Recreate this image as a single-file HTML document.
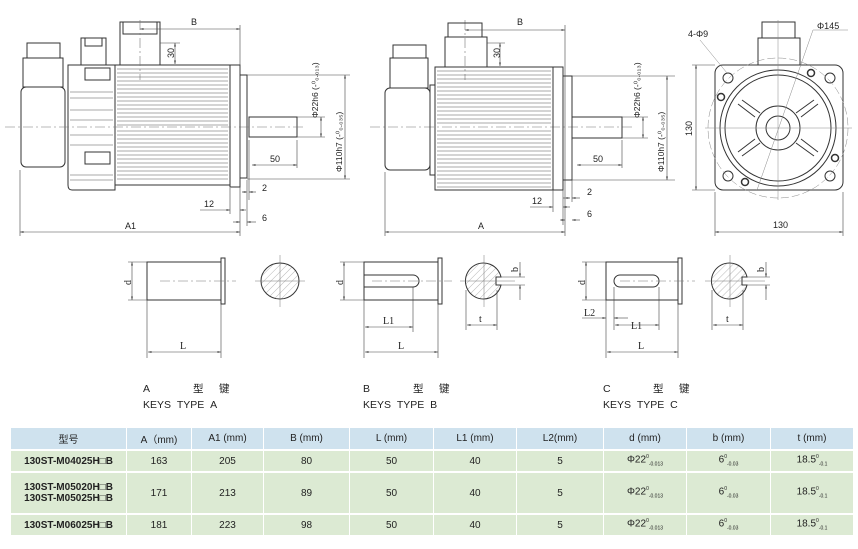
<!DOCTYPE html>
<html><head><meta charset="utf-8"><style>
html,body{margin:0;padding:0;background:#fff;width:858px;height:549px;overflow:hidden}
svg{position:absolute;left:0;top:0}
.t{font-family:"Liberation Sans","Noto Sans CJK SC",sans-serif;}
table{position:absolute;left:11px;top:428px;border-collapse:collapse;font-family:"Liberation Sans","Noto Sans CJK SC",sans-serif;font-size:10px;color:#222}
td{text-align:center;border-right:1px solid #fff;border-bottom:2px solid #fff;padding:0}
tr.h td{background:#cfe2ee;height:21px}
tr.r td{background:#dcead3}
td sup,td sub{font-size:5px}
</style></head><body>
<svg width="858" height="549" viewBox="0 0 858 549" xmlns="http://www.w3.org/2000/svg">
<defs>
<pattern id="hat" width="5" height="5" patternUnits="userSpaceOnUse" patternTransform="rotate(45)"><line x1="0" y1="0" x2="0" y2="5" stroke="#888" stroke-width="0.6"/></pattern>
<marker id="a" markerWidth="6" markerHeight="6" refX="6" refY="3" orient="auto-start-reverse"><path d="M0,1.5 L6,3 L0,4.5z" fill="#333"/></marker>
</defs>
<g fill="none" stroke="#333" stroke-width="1">
<!-- MOTOR 1 -->
<rect x="27" y="43" width="33" height="15"/>
<rect x="23" y="58" width="40" height="29"/>
<rect x="21" y="87" width="44" height="80" rx="5"/>
<rect x="81" y="38" width="25" height="27"/>
<rect x="85" y="38" width="17" height="8"/>
<rect x="120" y="22" width="40" height="43"/>
<rect x="123" y="22" width="34" height="12"/>
<path d="M68,65 H115 V190 H72 Q68,190 68,185 Z"/>
<rect x="85" y="68" width="25" height="12"/>
<rect x="85" y="152" width="25" height="12"/>
<rect x="115" y="65" width="115" height="120"/>
<rect x="230" y="65" width="10" height="122"/>
<rect x="240" y="75" width="7" height="103"/>
<rect x="249" y="117" width="48" height="20"/>
</g>
<g stroke="#555" stroke-width="0.6">
<line x1="117" y1="69" x2="228" y2="69"/><line x1="117" y1="73" x2="228" y2="73"/><line x1="117" y1="77" x2="228" y2="77"/><line x1="117" y1="81" x2="228" y2="81"/><line x1="117" y1="85" x2="228" y2="85"/><line x1="117" y1="89" x2="228" y2="89"/><line x1="117" y1="93" x2="228" y2="93"/><line x1="117" y1="97" x2="228" y2="97"/><line x1="117" y1="101" x2="228" y2="101"/><line x1="117" y1="105" x2="228" y2="105"/><line x1="117" y1="109" x2="228" y2="109"/><line x1="117" y1="113" x2="228" y2="113"/><line x1="117" y1="117" x2="228" y2="117"/><line x1="117" y1="121" x2="228" y2="121"/><line x1="117" y1="125" x2="228" y2="125"/><line x1="117" y1="131" x2="228" y2="131"/><line x1="117" y1="135" x2="228" y2="135"/><line x1="117" y1="139" x2="228" y2="139"/><line x1="117" y1="143" x2="228" y2="143"/><line x1="117" y1="147" x2="228" y2="147"/><line x1="117" y1="151" x2="228" y2="151"/><line x1="117" y1="155" x2="228" y2="155"/><line x1="117" y1="159" x2="228" y2="159"/><line x1="117" y1="163" x2="228" y2="163"/><line x1="117" y1="167" x2="228" y2="167"/><line x1="117" y1="171" x2="228" y2="171"/><line x1="117" y1="175" x2="228" y2="175"/><line x1="117" y1="179" x2="228" y2="179"/>
<line x1="70" y1="92" x2="113" y2="92"/><line x1="70" y1="98" x2="113" y2="98"/><line x1="70" y1="110" x2="113" y2="110"/><line x1="70" y1="120" x2="113" y2="120"/><line x1="70" y1="135" x2="113" y2="135"/><line x1="70" y1="145" x2="113" y2="145"/><line x1="70" y1="175" x2="113" y2="175"/><line x1="70" y1="180" x2="113" y2="180"/>
</g>
<g stroke="#777" stroke-width="0.6" fill="none" stroke-dasharray="10,3,2,3">
<line x1="5" y1="127" x2="305" y2="127"/><line x1="140" y1="20" x2="140" y2="80"/>
<line x1="370" y1="127" x2="632" y2="127"/><line x1="465" y1="20" x2="465" y2="80"/>
</g>
<g stroke="#444" stroke-width="0.6" fill="none">
<line x1="140" y1="29" x2="240" y2="29" marker-start="url(#a)" marker-end="url(#a)"/>
<line x1="240" y1="25" x2="240" y2="236"/>
<line x1="20" y1="232" x2="240" y2="232" marker-start="url(#a)" marker-end="url(#a)"/>
<line x1="20" y1="170" x2="20" y2="236"/>
<line x1="175" y1="43" x2="175" y2="64" marker-start="url(#a)" marker-end="url(#a)"/>
<line x1="160" y1="43" x2="180" y2="43"/>
<line x1="247" y1="75" x2="350" y2="75"/><line x1="247" y1="179" x2="350" y2="179"/>
<line x1="297" y1="117" x2="325" y2="117"/><line x1="297" y1="137" x2="325" y2="137"/>
<line x1="321" y1="117" x2="321" y2="137" marker-start="url(#a)" marker-end="url(#a)"/>
<line x1="345" y1="75" x2="345" y2="179" marker-start="url(#a)" marker-end="url(#a)"/>
<line x1="252" y1="165" x2="297" y2="165" marker-start="url(#a)" marker-end="url(#a)"/>
<line x1="297" y1="140" x2="297" y2="168"/><line x1="249" y1="140" x2="249" y2="200"/>
<line x1="242" y1="192" x2="247" y2="192" marker-start="url(#a)"/><line x1="249" y1="192" x2="256" y2="192" marker-start="url(#a)"/>
<line x1="200" y1="210" x2="230" y2="210" marker-end="url(#a)"/><line x1="240" y1="210" x2="246" y2="210" marker-start="url(#a)"/>
<line x1="230" y1="188" x2="230" y2="214"/><line x1="247" y1="180" x2="247" y2="226"/>
<line x1="233" y1="222" x2="240" y2="222" marker-end="url(#a)"/><line x1="247" y1="222" x2="256" y2="222" marker-start="url(#a)"/>
</g>
<g class="t" font-size="9" fill="#222">
<text x="191" y="25">B</text><text x="125" y="229">A1</text>
<text x="270" y="162">50</text><text x="262" y="191">2</text><text x="204" y="207">12</text><text x="262" y="221">6</text>
<text transform="translate(174,58) rotate(-90)">30</text>
<text transform="translate(318,118) rotate(-90)" font-size="8.5">Φ22h6 (-⁰₀.₀₁₃)</text>
<text transform="translate(342,172) rotate(-90)" font-size="8.5">Φ110h7 (-⁰₀.₀₃₅)</text>
</g>
<!-- MOTOR 2 -->
<g fill="none" stroke="#333" stroke-width="1">
<rect x="393" y="45" width="33" height="13"/>
<rect x="390" y="58" width="38" height="30"/>
<rect x="385" y="88" width="45" height="82" rx="5"/>
<rect x="430" y="85" width="5" height="90"/>
<rect x="445" y="37" width="42" height="30"/>
<rect x="448" y="23" width="34" height="14"/>
<rect x="435" y="67" width="118" height="123"/>
<rect x="553" y="67" width="10" height="123"/>
<rect x="563" y="76" width="9" height="104"/>
<rect x="572" y="117" width="50" height="21"/>
</g>
<g stroke="#555" stroke-width="0.6">
<line x1="437" y1="71" x2="551" y2="71"/><line x1="437" y1="75" x2="551" y2="75"/><line x1="437" y1="79" x2="551" y2="79"/><line x1="437" y1="83" x2="551" y2="83"/><line x1="437" y1="87" x2="551" y2="87"/><line x1="437" y1="91" x2="551" y2="91"/><line x1="437" y1="95" x2="551" y2="95"/><line x1="437" y1="99" x2="551" y2="99"/><line x1="437" y1="103" x2="551" y2="103"/><line x1="437" y1="107" x2="551" y2="107"/><line x1="437" y1="111" x2="551" y2="111"/><line x1="437" y1="115" x2="551" y2="115"/><line x1="437" y1="119" x2="551" y2="119"/><line x1="437" y1="123" x2="551" y2="123"/><line x1="437" y1="131" x2="551" y2="131"/><line x1="437" y1="135" x2="551" y2="135"/><line x1="437" y1="139" x2="551" y2="139"/><line x1="437" y1="143" x2="551" y2="143"/><line x1="437" y1="147" x2="551" y2="147"/><line x1="437" y1="151" x2="551" y2="151"/><line x1="437" y1="155" x2="551" y2="155"/><line x1="437" y1="159" x2="551" y2="159"/><line x1="437" y1="163" x2="551" y2="163"/><line x1="437" y1="167" x2="551" y2="167"/><line x1="437" y1="171" x2="551" y2="171"/><line x1="437" y1="175" x2="551" y2="175"/><line x1="437" y1="179" x2="551" y2="179"/><line x1="437" y1="183" x2="551" y2="183"/><line x1="437" y1="187" x2="551" y2="187"/>
</g>
<g stroke="#444" stroke-width="0.6" fill="none">
<line x1="465" y1="30" x2="565" y2="30" marker-start="url(#a)" marker-end="url(#a)"/>
<line x1="565" y1="25" x2="565" y2="236"/>
<line x1="385" y1="232" x2="565" y2="232" marker-start="url(#a)" marker-end="url(#a)"/>
<line x1="385" y1="172" x2="385" y2="236"/>
<line x1="500" y1="43" x2="500" y2="66" marker-start="url(#a)" marker-end="url(#a)"/>
<line x1="487" y1="43" x2="505" y2="43"/>
<line x1="572" y1="76" x2="675" y2="76"/><line x1="572" y1="180" x2="675" y2="180"/>
<line x1="622" y1="117" x2="648" y2="117"/><line x1="622" y1="138" x2="648" y2="138"/>
<line x1="643" y1="117" x2="643" y2="138" marker-start="url(#a)" marker-end="url(#a)"/>
<line x1="667" y1="76" x2="667" y2="180" marker-start="url(#a)" marker-end="url(#a)"/>
<line x1="577" y1="165" x2="622" y2="165" marker-start="url(#a)" marker-end="url(#a)"/>
<line x1="622" y1="140" x2="622" y2="168"/><line x1="572" y1="140" x2="572" y2="202"/>
<line x1="563" y1="198" x2="570" y2="198" marker-end="url(#a)"/><line x1="572" y1="198" x2="580" y2="198" marker-start="url(#a)"/>
<line x1="530" y1="207" x2="553" y2="207" marker-end="url(#a)"/><line x1="563" y1="207" x2="570" y2="207" marker-start="url(#a)"/>
<line x1="553" y1="190" x2="553" y2="212"/><line x1="563" y1="190" x2="563" y2="225"/>
<line x1="560" y1="220" x2="565" y2="220" marker-end="url(#a)"/><line x1="572" y1="220" x2="580" y2="220" marker-start="url(#a)"/>
</g>
<g class="t" font-size="9" fill="#222">
<text x="517" y="25">B</text><text x="478" y="229">A</text>
<text x="593" y="162">50</text><text x="587" y="195">2</text><text x="532" y="204">12</text><text x="587" y="217">6</text>
<text transform="translate(500,58) rotate(-90)">30</text>
<text transform="translate(640,118) rotate(-90)" font-size="8.5">Φ22h6 (-⁰₀.₀₁₃)</text>
<text transform="translate(664,172) rotate(-90)" font-size="8.5">Φ110h7 (-⁰₀.₀₃₅)</text>
</g>
<!-- FRONT VIEW -->
<g fill="none" stroke="#333" stroke-width="1">
<rect x="758" y="38" width="42" height="27"/>
<rect x="762" y="22" width="33" height="16"/>
<rect x="715" y="65" width="128" height="125" rx="8"/>
<circle cx="778" cy="128" r="58"/><circle cx="778" cy="128" r="53"/>
<circle cx="778" cy="128" r="22"/><circle cx="778" cy="128" r="12"/>
<path d="M742,100 L760,113 M814,100 L796,113 M742,156 L760,143 M814,156 L796,143"/>
<path d="M738,104 L755,117 M818,104 L801,117 M738,152 L755,139 M818,152 L801,139"/>
<circle cx="728" cy="78" r="5"/><circle cx="830" cy="78" r="5"/><circle cx="728" cy="176" r="5"/><circle cx="830" cy="176" r="5"/>
<circle cx="721" cy="97" r="3.5" stroke-width="1.5"/><circle cx="811" cy="73" r="3.5" stroke-width="1.5"/><circle cx="835" cy="158" r="3.5" stroke-width="1.5"/><circle cx="745" cy="182" r="3.5" stroke-width="1.5"/>
</g>
<g stroke="#888" stroke-width="0.5" fill="none">
<circle cx="778" cy="128" r="70" stroke-dasharray="8,3"/>
<line x1="705" y1="128" x2="852" y2="128"/><line x1="778" y1="20" x2="778" y2="200"/>
<line x1="757" y1="190" x2="813" y2="30"/><line x1="700" y1="40" x2="727" y2="73"/>
<line x1="813" y1="30" x2="848" y2="30"/>
</g>
<g stroke="#444" stroke-width="0.6" fill="none">
<line x1="696" y1="65" x2="696" y2="190" marker-start="url(#a)" marker-end="url(#a)"/>
<line x1="692" y1="65" x2="715" y2="65"/><line x1="692" y1="190" x2="715" y2="190"/>
<line x1="715" y1="232" x2="843" y2="232" marker-start="url(#a)" marker-end="url(#a)"/>
<line x1="715" y1="192" x2="715" y2="236"/><line x1="843" y1="192" x2="843" y2="236"/>
</g>
<g class="t" font-size="9" fill="#222">
<text x="688" y="37">4-Φ9</text><text x="817" y="29">Φ145</text><text x="773" y="228">130</text>
<text transform="translate(692,136) rotate(-90)">130</text>
</g>
<!-- KEYS -->
<g fill="none" stroke="#333" stroke-width="1">
<rect x="147" y="262" width="74" height="38"/><rect x="221" y="258" width="4" height="46"/>
<rect x="364" y="262" width="74" height="38"/><rect x="438" y="258" width="4" height="46"/>
<path d="M364,275 H413 A6,6 0 0 1 413,287 H364"/>
<rect x="606" y="262" width="72" height="38"/><rect x="678" y="258" width="4" height="46"/>
<rect x="614" y="275" width="45" height="12" rx="6"/>
</g>
<ellipse cx="280" cy="281" rx="19" ry="18" fill="url(#hat)" stroke="#333"/>
<path d="M501,277 A18,18 0 1 0 501,285 L496,285 L496,277 Z" fill="url(#hat)" stroke="#333" transform="translate(0,0)"/>
<path d="M747,277 A18,18 0 1 0 747,285 L742,285 L742,277 Z" fill="url(#hat)" stroke="#333"/>
<g stroke="#777" stroke-width="0.5" fill="none">
<line x1="160" y1="281" x2="236" y2="281" stroke-dasharray="10,3,2,3"/>
<line x1="255" y1="281" x2="305" y2="281"/><line x1="280" y1="255" x2="280" y2="307"/>
<line x1="372" y1="281" x2="452" y2="281" stroke-dasharray="10,3,2,3"/>
<line x1="460" y1="281" x2="515" y2="281"/><line x1="484" y1="255" x2="484" y2="307"/>
<line x1="620" y1="281" x2="695" y2="281" stroke-dasharray="10,3,2,3"/>
<line x1="705" y1="281" x2="765" y2="281"/><line x1="730" y1="255" x2="730" y2="307"/>
</g>
<g stroke="#444" stroke-width="0.6" fill="none">
<line x1="128" y1="262" x2="147" y2="262"/><line x1="128" y1="300" x2="147" y2="300"/>
<line x1="132" y1="262" x2="132" y2="300" marker-start="url(#a)" marker-end="url(#a)"/>
<line x1="147" y1="300" x2="147" y2="358"/><line x1="221" y1="304" x2="221" y2="358"/>
<line x1="148" y1="352" x2="221" y2="352" marker-start="url(#a)" marker-end="url(#a)"/>
<line x1="340" y1="262" x2="364" y2="262"/><line x1="340" y1="300" x2="364" y2="300"/>
<line x1="344" y1="262" x2="344" y2="300" marker-start="url(#a)" marker-end="url(#a)"/>
<line x1="364" y1="300" x2="364" y2="358"/><line x1="438" y1="304" x2="438" y2="358"/>
<line x1="365" y1="352" x2="438" y2="352" marker-start="url(#a)" marker-end="url(#a)"/>
<line x1="413" y1="287" x2="413" y2="332"/>
<line x1="365" y1="327" x2="413" y2="327" marker-start="url(#a)" marker-end="url(#a)"/>
<line x1="466" y1="290" x2="466" y2="330"/><line x1="497" y1="290" x2="497" y2="330"/>
<line x1="467" y1="325" x2="497" y2="325" marker-start="url(#a)" marker-end="url(#a)"/>
<line x1="497" y1="277" x2="525" y2="277"/><line x1="497" y1="285" x2="525" y2="285"/>
<line x1="520" y1="262" x2="520" y2="277" marker-end="url(#a)"/><line x1="520" y1="300" x2="520" y2="285" marker-end="url(#a)"/>
<line x1="582" y1="262" x2="606" y2="262"/><line x1="582" y1="300" x2="606" y2="300"/>
<line x1="586" y1="262" x2="586" y2="300" marker-start="url(#a)" marker-end="url(#a)"/>
<line x1="606" y1="300" x2="606" y2="358"/><line x1="678" y1="304" x2="678" y2="358"/>
<line x1="614" y1="287" x2="614" y2="330"/><line x1="659" y1="287" x2="659" y2="330"/>
<line x1="607" y1="352" x2="678" y2="352" marker-start="url(#a)" marker-end="url(#a)"/>
<line x1="615" y1="325" x2="659" y2="325" marker-start="url(#a)" marker-end="url(#a)"/>
<line x1="582" y1="318" x2="606" y2="318" marker-end="url(#a)"/><line x1="614" y1="318" x2="628" y2="318" marker-start="url(#a)"/>
<line x1="712" y1="290" x2="712" y2="330"/><line x1="743" y1="290" x2="743" y2="330"/>
<line x1="713" y1="325" x2="743" y2="325" marker-start="url(#a)" marker-end="url(#a)"/>
<line x1="743" y1="277" x2="770" y2="277"/><line x1="743" y1="285" x2="770" y2="285"/>
<line x1="766" y1="262" x2="766" y2="277" marker-end="url(#a)"/><line x1="766" y1="300" x2="766" y2="285" marker-end="url(#a)"/>
</g>
<g font-family="Liberation Serif,serif" font-size="10" fill="#222">
<text transform="translate(131,285) rotate(-90)">d</text>
<text x="180" y="349">L</text>
<text transform="translate(343,285) rotate(-90)">d</text>
<text x="383" y="324">L1</text><text x="398" y="349">L</text><text x="479" y="322">t</text>
<text transform="translate(518,272) rotate(-90)">b</text>
<text transform="translate(585,285) rotate(-90)">d</text>
<text x="584" y="316">L2</text><text x="631" y="329">L1</text><text x="638" y="349">L</text><text x="726" y="322">t</text>
<text transform="translate(764,272) rotate(-90)">b</text>
</g>
<g class="t" font-size="10.5" fill="#222">
<text x="143" y="392">A</text><text x="193" y="392">型</text><text x="219" y="392">键</text>
<text x="143" y="408">KEYS&#160;&#160;TYPE&#160;&#160;A</text>
<text x="363" y="392">B</text><text x="413" y="392">型</text><text x="439" y="392">键</text>
<text x="363" y="408">KEYS&#160;&#160;TYPE&#160;&#160;B</text>
<text x="603" y="392">C</text><text x="653" y="392">型</text><text x="679" y="392">键</text>
<text x="603" y="408">KEYS&#160;&#160;TYPE&#160;&#160;C</text>
</g>
</svg>
<table>
<tr class="h"><td style="width:115px">型号</td><td style="width:64px">A（mm)</td><td style="width:71px">A1 (mm)</td><td style="width:85px">B (mm)</td><td style="width:83px">L (mm)</td><td style="width:82px">L1 (mm)</td><td style="width:86px">L2(mm)</td><td style="width:82px">d (mm)</td><td style="width:83px">b (mm)</td><td style="width:82px">t (mm)</td></tr>
<tr class="r" style="height:22px"><td><b>130ST-M04025H□B</b></td><td>163</td><td>205</td><td>80</td><td>50</td><td>40</td><td>5</td><td>Φ22<sup>0</sup><sub>-0.013</sub></td><td>6<sup>0</sup><sub>-0.03</sub></td><td>18.5<sup>0</sup><sub>-0.1</sub></td></tr>
<tr class="r" style="height:42px"><td><b>130ST-M05020H□B<br>130ST-M05025H□B</b></td><td>171</td><td>213</td><td>89</td><td>50</td><td>40</td><td>5</td><td>Φ22<sup>0</sup><sub>-0.013</sub></td><td>6<sup>0</sup><sub>-0.03</sub></td><td>18.5<sup>0</sup><sub>-0.1</sub></td></tr>
<tr class="r" style="height:22px"><td><b>130ST-M06025H□B</b></td><td>181</td><td>223</td><td>98</td><td>50</td><td>40</td><td>5</td><td>Φ22<sup>0</sup><sub>-0.013</sub></td><td>6<sup>0</sup><sub>-0.03</sub></td><td>18.5<sup>0</sup><sub>-0.1</sub></td></tr>
</table>
</body></html>
